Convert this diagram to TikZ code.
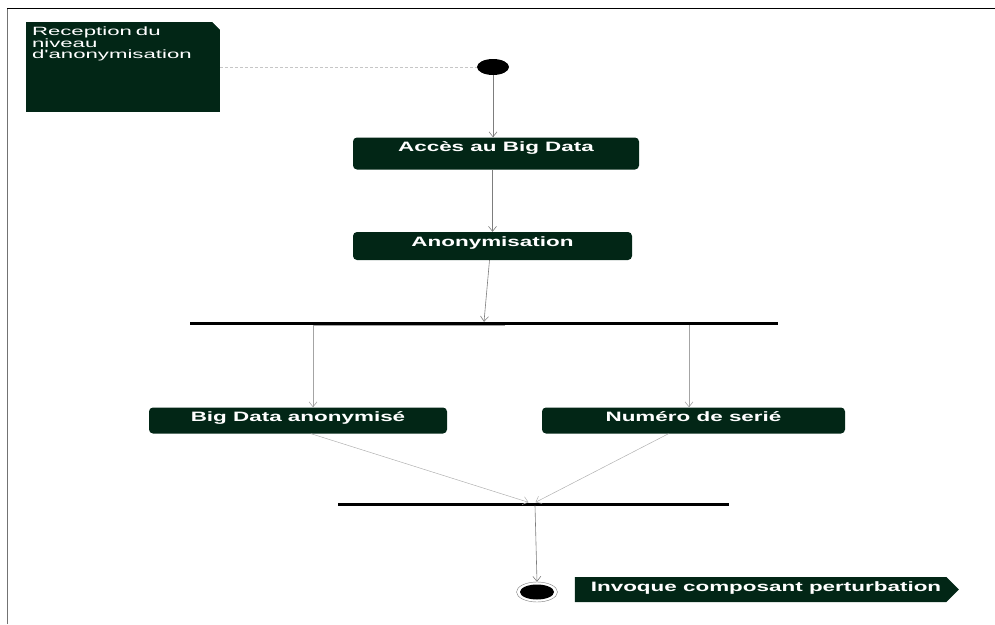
\documentclass[tikz,border=0pt]{standalone}
\usepackage{fontspec}
\usepackage{tikz}
\usepackage{xcolor}
\usetikzlibrary{arrows.meta,shapes.geometric,shapes.symbols}
\setmainfont{Liberation Sans}
\newfontfamily\actfont[FakeStretch=1.65]{Liberation Sans}
\newfontfamily\notefont[FakeStretch=1.85]{Liberation Sans}
\definecolor{umlgreen}{RGB}{2,38,22}
\definecolor{linegray}{RGB}{125,125,125}

\begin{document}
\begin{tikzpicture}[
    x=1pt, y=1pt,
    action/.style={fill=umlgreen, rounded corners=4pt, text=white, inner xsep=4pt, inner ysep=4pt, text height=10pt, font=\actfont\bfseries\fontsize{13.6}{15}\selectfont},
    bar/.style={fill=black, inner sep=0pt, minimum height=3pt},
    arrow/.style={->, >={Straight Barb[length=5pt,width=8pt]}, draw=linegray, line width=0.6pt}
]
    \useasboundingbox (0,0) rectangle (995,-624);
    % Frame
    \draw[gray!90!black, line width=1.5pt] (7.5,-624) -- (7.5,-8);
    \draw[black, line width=1pt] (7,-8) -- (995,-8);

    % Nodes
    \node[fill=umlgreen, text=white, align=left, text width=182pt, inner xsep=6pt, inner ysep=4pt, text height=9pt, text depth=73pt, font=\notefont\fontsize{12}{11}\selectfont] (note) at (123,-67) {Reception du\\niveau\\d'anonymisation};
    \fill[white] (note.north east) -- ++(-8,0) -- ++(8,-8) -- cycle;
    \node[ellipse, fill=black, minimum width=32pt, minimum height=16pt, inner sep=0pt] (start) at (493,-67) {};
    \node[action, minimum width=286pt, text depth=14pt] (acces) at (496,-153.5) {Accès au Big Data};
    \node[action, minimum width=279pt, text depth=10pt] (anon) at (492.5,-246) {Anonymisation};
    \node[bar, minimum width=588pt] (fork) at (484,-323.5) {};
    \node[action, minimum width=298pt, text depth=8pt] (bda) at (298,-420.5) {Big Data anonymisé};
    \node[action, minimum width=303pt, text depth=8pt] (num) at (693.5,-420.5) {Numéro de serié};
    \node[bar, minimum width=391pt] (join) at (533.5,-504) {};
    \node[ellipse, draw=linegray, fill=white, minimum width=41pt, minimum height=20pt, inner sep=0pt,
        path picture={\fill[black] (path picture bounding box.center) ellipse (17pt and 7.5pt);}] (end) at (537,-592) {};
    \node[action, signal, signal to=east, signal pointer angle=90, rounded corners=0pt, minimum width=384pt, text depth=7pt] (invoke) at (760.5,-589.5) {\hspace*{11pt}Invoque composant perturbation};

    % Connections
    \draw[dashed, dash pattern=on 3pt off 2pt, gray!45] (note.east |- start) -- (start);
    \draw[arrow] (start) -- (start |- acces.north);
    \draw[arrow] (anon.north |- acces.south) -- (anon.north);
    \draw[arrow] ([xshift=-3pt]anon.south) -- (fork.north);
    \draw[arrow, draw=linegray!70] ([xshift=21pt]fork.south) -| ([xshift=15pt]bda.north);
    \draw[arrow, draw=linegray!70] ([xshift=-4.5pt]num.north |- fork.south) -- ([xshift=-4.5pt]num.north);
    \draw[arrow, draw=linegray!60, line width=0.5pt] ([xshift=13pt]bda.south) -- ([xshift=-5pt]join.north);
    \draw[arrow, draw=linegray!60, line width=0.5pt] ([xshift=-25pt]num.south) -- ([xshift=2pt]join.north);
    \draw[arrow] ([xshift=1.5pt]join.south) -- (end.north);
\end{tikzpicture}
\end{document}
